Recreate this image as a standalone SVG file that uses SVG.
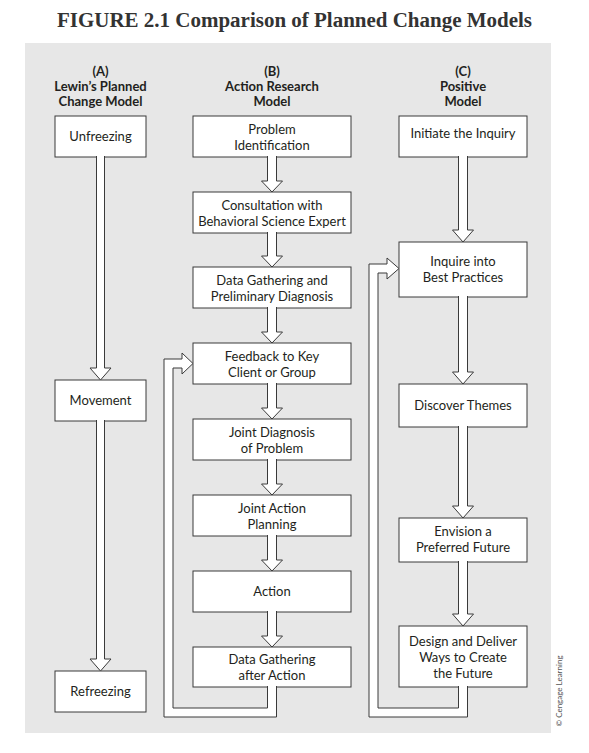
<svg xmlns="http://www.w3.org/2000/svg" width="589" height="753" viewBox="0 0 589 753">
<style>
.bg{fill:#e7e7e7}
.box{fill:#fff;stroke:#3a3a3a;stroke-width:1}
.arr{fill:#fff;stroke:#3a3a3a;stroke-width:1;stroke-linejoin:miter}
.t{font-family:Lato,"Open Sans",sans-serif;font-size:13px;fill:#231f20;text-anchor:middle}
.h{font-family:Lato,"Open Sans",sans-serif;font-size:13px;font-weight:bold;fill:#231f20;text-anchor:middle}
.title{font-family:"Liberation Serif","DejaVu Serif",serif;font-size:20px;font-weight:bold;fill:#333;text-anchor:middle}
.c{font-family:Lato,"Liberation Sans",sans-serif;font-size:8px;fill:#555;text-anchor:middle}
</style>
<rect width="589" height="753" fill="#fff"/>
<text class="title" x="294.5" y="27" textLength="475" lengthAdjust="spacingAndGlyphs">FIGURE 2.1 Comparison of Planned Change Models</text>
<rect class="bg" x="25" y="43" width="526" height="690"/>
<g id="headers">
<text class="h" x="100.5" y="76">(A)</text>
<text class="h" x="100.5" y="91">Lewin’s Planned</text>
<text class="h" x="100.5" y="106">Change Model</text>
<text class="h" x="272" y="76">(B)</text>
<text class="h" x="272" y="91">Action Research</text>
<text class="h" x="272" y="106">Model</text>
<text class="h" x="463" y="76">(C)</text>
<text class="h" x="463" y="91">Positive</text>
<text class="h" x="463" y="106">Model</text>
</g>
<g id="a1"><rect class="box" x="55" y="116" width="91" height="41"/><text class="t" x="100.5" y="141">Unfreezing</text></g>
<g id="a2"><rect class="box" x="55" y="380" width="91" height="41"/><text class="t" x="100.5" y="405">Movement</text></g>
<g id="a3"><rect class="box" x="55" y="671" width="91" height="41"/><text class="t" x="100.5" y="696">Refreezing</text></g>
<g id="b1"><rect class="box" x="193" y="116" width="158" height="41"/><text class="t" x="272" y="134">Problem</text><text class="t" x="272" y="150">Identification</text></g>
<g id="b2"><rect class="box" x="193" y="192" width="158" height="41"/><text class="t" x="272" y="210">Consultation with</text><text class="t" x="272" y="226">Behavioral Science Expert</text></g>
<g id="b3"><rect class="box" x="193" y="267" width="158" height="41"/><text class="t" x="272" y="285">Data Gathering and</text><text class="t" x="272" y="301">Preliminary Diagnosis</text></g>
<g id="b4"><rect class="box" x="193" y="343" width="158" height="41"/><text class="t" x="272" y="361">Feedback to Key</text><text class="t" x="272" y="377">Client or Group</text></g>
<g id="b5"><rect class="box" x="193" y="419" width="158" height="41"/><text class="t" x="272" y="437">Joint Diagnosis</text><text class="t" x="272" y="453">of Problem</text></g>
<g id="b6"><rect class="box" x="193" y="495" width="158" height="41"/><text class="t" x="272" y="513">Joint Action</text><text class="t" x="272" y="529">Planning</text></g>
<g id="b7"><rect class="box" x="193" y="571" width="158" height="41"/><text class="t" x="272" y="596">Action</text></g>
<g id="b8"><rect class="box" x="193" y="647" width="158" height="40"/><text class="t" x="272" y="664">Data Gathering</text><text class="t" x="272" y="680">after Action</text></g>
<g id="c1"><rect class="box" x="399" y="116" width="128" height="41"/><text class="t" x="463" y="138">Initiate the Inquiry</text></g>
<g id="c2"><rect class="box" x="399" y="242" width="128" height="55"/><text class="t" x="463" y="266">Inquire into</text><text class="t" x="463" y="282">Best Practices</text></g>
<g id="c3"><rect class="box" x="399" y="384" width="128" height="43"/><text class="t" x="463" y="410">Discover Themes</text></g>
<g id="c4"><rect class="box" x="399" y="518" width="128" height="44"/><text class="t" x="463" y="536">Envision a</text><text class="t" x="463" y="552">Preferred Future</text></g>
<g id="c5"><rect class="box" x="399" y="626" width="128" height="61"/><text class="t" x="463" y="646">Design and Deliver</text><text class="t" x="463" y="662">Ways to Create</text><text class="t" x="463" y="678">the Future</text></g>
<g id="connectors">
<path class="arr" d="M96.5,156 V368 H90 L100.5,380 L111,368 H104.5 V156"/>
<path class="arr" d="M96.5,420 V659 H90 L100.5,671 L111,659 H104.5 V420"/>
<path class="arr" d="M267.5,156 V181 H261.5 L272,192 L282.5,181 H276.5 V156"/>
<path class="arr" d="M267.5,232 V256 H261.5 L272,267 L282.5,256 H276.5 V232"/>
<path class="arr" d="M267.5,307 V332 H261.5 L272,343 L282.5,332 H276.5 V307"/>
<path class="arr" d="M267.5,383 V408 H261.5 L272,419 L282.5,408 H276.5 V383"/>
<path class="arr" d="M267.5,459 V484 H261.5 L272,495 L282.5,484 H276.5 V459"/>
<path class="arr" d="M267.5,535 V560 H261.5 L272,571 L282.5,560 H276.5 V535"/>
<path class="arr" d="M267.5,611 V636 H261.5 L272,647 L282.5,636 H276.5 V611"/>
<path class="arr" d="M458.5,156 V230 H452.5 L463,242 L473.5,230 H467.5 V156"/>
<path class="arr" d="M458.5,296 V372 H452.5 L463,384 L473.5,372 H467.5 V296"/>
<path class="arr" d="M458.5,426 V506 H452.5 L463,518 L473.5,506 H467.5 V426"/>
<path class="arr" d="M458.5,561 V614 H452.5 L463,626 L473.5,614 H467.5 V561"/>
<path class="arr" d="M267.5,686 V708 H173 V368 H182 V374 L193,363.5 L182,353 V359 H164 V717 H276.5 V686"/>
<path class="arr" d="M458.5,686 V708 H378 V273 H387 V279 L399,268.5 L387,258 V264 H369 V717 H467.5 V686"/>
</g>
<text class="c" transform="translate(562,691) rotate(-90)">© Cengage Learning</text>
</svg>
